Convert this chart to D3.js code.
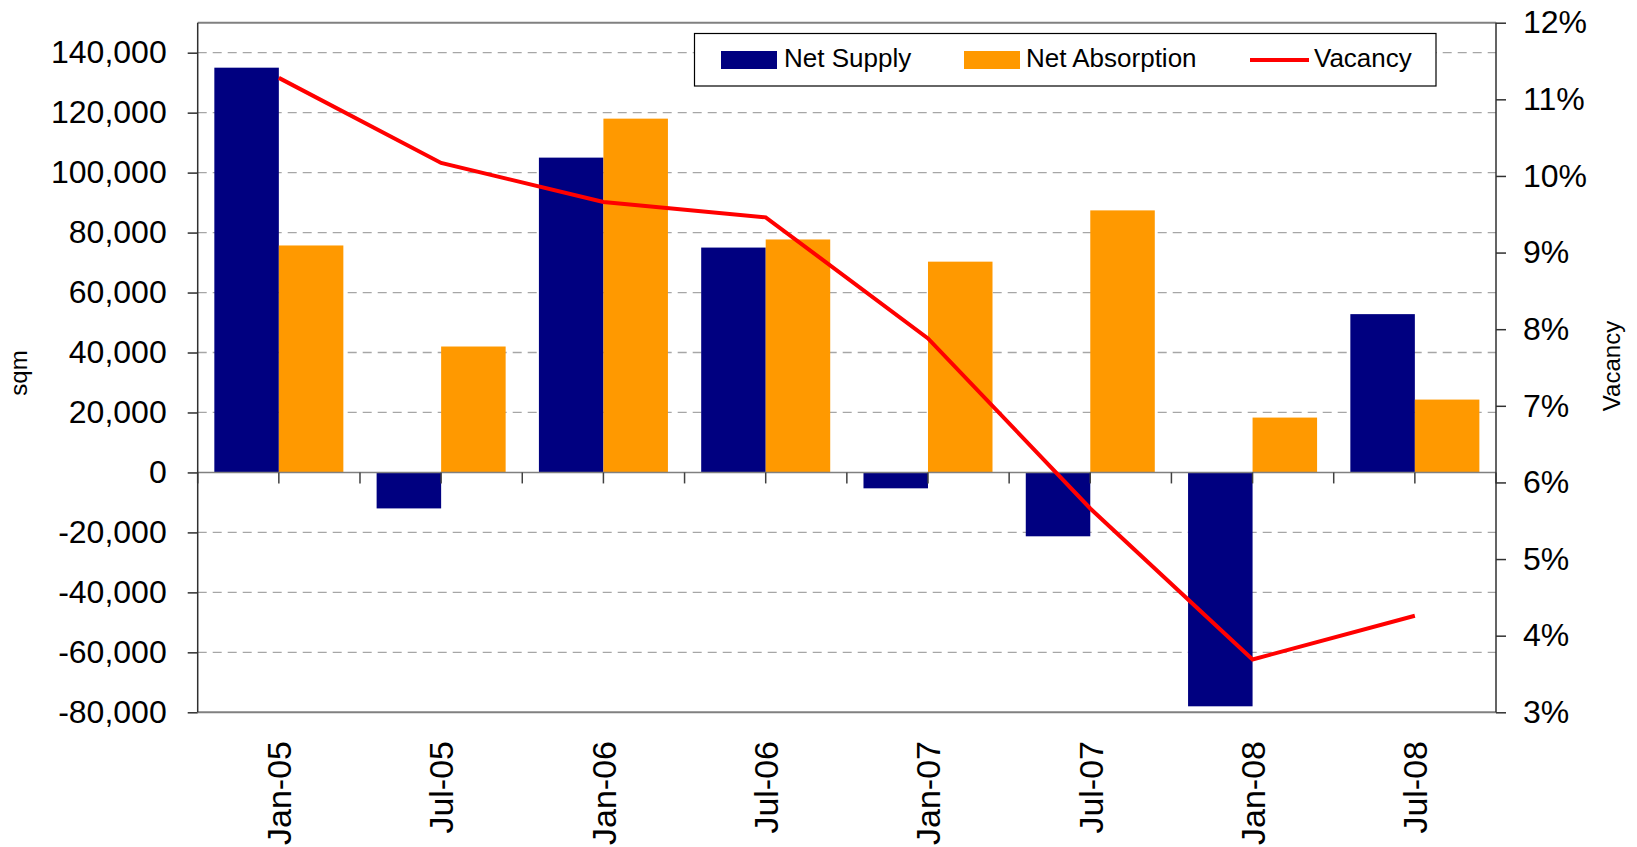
<!DOCTYPE html>
<html>
<head>
<meta charset="utf-8">
<script src="https://cdn.jsdelivr.net/npm/d3@7"></script>
<style>
  body { margin: 0; background: #fff; }
  svg { display: block; font-family: "Liberation Sans", Arial, sans-serif; }
</style>
</head>
<body>
<div id="grafico"></div>
<script>
// datos
const periodos = ["Jan-05", "Jul-05", "Jan-06", "Jul-06", "Jan-07", "Jul-07", "Jan-08", "Jul-08"];
const netSupply = [135000, -12000, 105000, 75000, -5300, -21300, -78000, 52800];
const netAbsorption = [75700, 42000, 118000, 77700, 70300, 87400, 18300, 24300];
const vacancy = [11.28, 10.17, 9.66, 9.46, 7.88, 5.66, 3.69, 4.26];
const ticksSqm = [-80000, -60000, -40000, -20000, 0, 20000, 40000, 60000, 80000, 100000, 120000, 140000];
const ticksVacancy = [3, 4, 5, 6, 7, 8, 9, 10, 11, 12];
const series = ["Net Supply", "Net Absorption"];
const colores = { "Net Supply": "#000080", "Net Absorption": "#FF9900" };

const datos = periodos.map((p, i) => ({
    periodo: p,
    valores: [
        { serie: "Net Supply", valor: netSupply[i] },
        { serie: "Net Absorption", valor: netAbsorption[i] }
    ],
    vacancy: vacancy[i]
}));

const W = 1637, H = 847;
const pLeft = 197.7, pRight = 1496, pTop = 22.7, pBottom = 712.3;

// formato con guion normal como en el original
const formato = d3.formatLocale({ decimal: ".", thousands: ",", grouping: [3], currency: ["", ""], minus: "-" }).format(",");

const svg = d3.select("#grafico").append("svg")
    .attr("width", W)
    .attr("height", H);

const x = d3.scaleBand()
    .domain(periodos)
    .range([pLeft, pRight])
    .paddingInner(0.205)
    .paddingOuter(0.1025);

const x1 = d3.scaleBand()
    .domain(series)
    .range([0, x.bandwidth()]);

const y = d3.scaleLinear()
    .domain([-80000, 150000])
    .range([pBottom, pTop]);

const y2 = d3.scaleLinear()
    .domain([3, 12])
    .range([pBottom, pTop]);

// Grilla punteada
svg.append("g")
    .selectAll("line")
    .data(ticksSqm.filter(d => d !== 0 && d !== -80000))
    .enter().append("line")
    .attr("x1", pLeft).attr("x2", pRight)
    .attr("y1", d => y(d)).attr("y2", d => y(d))
    .attr("stroke", "#a6a6a6")
    .attr("stroke-width", 1.3)
    .attr("stroke-dasharray", "9,6");

// Borde superior e inferior
svg.append("line")
    .attr("x1", pLeft).attr("x2", pRight)
    .attr("y1", pTop).attr("y2", pTop)
    .attr("stroke", "#808080").attr("stroke-width", 2);
svg.append("line")
    .attr("x1", pLeft).attr("x2", pRight)
    .attr("y1", pBottom).attr("y2", pBottom)
    .attr("stroke", "#808080").attr("stroke-width", 2);

// Barras
const grupos = svg.append("g")
    .selectAll("g")
    .data(datos)
    .enter().append("g")
    .attr("transform", d => `translate(${x(d.periodo)},0)`);

grupos.selectAll("rect")
    .data(d => d.valores)
    .enter().append("rect")
    .attr("x", d => x1(d.serie))
    .attr("y", d => y(Math.max(0, d.valor)))
    .attr("width", x1.bandwidth())
    .attr("height", d => Math.abs(y(d.valor) - y(0)))
    .attr("fill", d => colores[d.serie]);

// Linea del cero con ticks
svg.append("line")
    .attr("x1", pLeft).attr("x2", pRight)
    .attr("y1", y(0)).attr("y2", y(0))
    .attr("stroke", "#808080").attr("stroke-width", 1.5);

const posTicks = [];
periodos.forEach(p => {
    const c = x(p) + x.bandwidth() / 2;
    posTicks.push(c - x.step() / 2, c);
});
posTicks.push(pRight);
svg.append("g")
    .selectAll("line")
    .data(posTicks)
    .enter().append("line")
    .attr("x1", d => d).attr("x2", d => d)
    .attr("y1", y(0)).attr("y2", y(0) + 11)
    .attr("stroke", "#404040").attr("stroke-width", 1.5);

// Linea de vacancia
const linea = d3.line()
    .x(d => x(d.periodo) + x.bandwidth() / 2)
    .y(d => y2(d.vacancy));

svg.append("path")
    .datum(datos)
    .attr("d", linea)
    .attr("fill", "none")
    .attr("stroke", "#FF0000")
    .attr("stroke-width", 4);

// Eje Y izquierdo
const ejeY = svg.append("g")
    .attr("transform", `translate(${pLeft},0)`)
    .call(d3.axisLeft(y).tickValues(ticksSqm).tickSize(10).tickPadding(21).tickFormat(formato));
ejeY.select(".domain").attr("d", `M0,${pTop}V${pBottom}`).attr("stroke", "#303030").attr("stroke-width", 1.5);
ejeY.selectAll(".tick line").attr("stroke", "#303030").attr("stroke-width", 1.5);
ejeY.selectAll("text").attr("font-size", 32).attr("font-family", "Liberation Sans, Arial").attr("fill", "#000");

// Eje Y derecho
const ejeY2 = svg.append("g")
    .attr("transform", `translate(${pRight},0)`)
    .call(d3.axisRight(y2).tickValues(ticksVacancy).tickSize(10).tickPadding(17).tickFormat(d => d + "%"));
ejeY2.select(".domain").attr("d", `M0,${pTop}V${pBottom}`).attr("stroke", "#303030").attr("stroke-width", 1.5);
ejeY2.selectAll(".tick line").attr("stroke", "#303030").attr("stroke-width", 1.5);
ejeY2.selectAll("text").attr("font-size", 32).attr("font-family", "Liberation Sans, Arial").attr("fill", "#000");

// Etiquetas X rotadas
svg.append("g")
    .selectAll("text")
    .data(periodos)
    .enter().append("text")
    .attr("transform", d => `translate(${x(d) + x.bandwidth() / 2},741) rotate(-90)`)
    .attr("dy", "0.36em")
    .attr("text-anchor", "end")
    .attr("font-size", 34)
    .text(d => d);

// Titulos de ejes
svg.append("text")
    .attr("transform", "translate(27,373) rotate(-90)")
    .attr("text-anchor", "middle")
    .attr("font-size", 24)
    .text("sqm");

svg.append("text")
    .attr("transform", "translate(1620,366) rotate(-90)")
    .attr("text-anchor", "middle")
    .attr("font-size", 24)
    .text("Vacancy");

// Leyenda
const leyenda = svg.append("g");
leyenda.append("rect")
    .attr("x", 694.5).attr("y", 33.5)
    .attr("width", 741.5).attr("height", 52.5)
    .attr("fill", "#fff").attr("stroke", "#000").attr("stroke-width", 1.2);

const itemsLeyenda = [
    { nombre: "Net Supply", tipo: "rect", color: colores["Net Supply"], x: 721, tx: 784 },
    { nombre: "Net Absorption", tipo: "rect", color: colores["Net Absorption"], x: 964, tx: 1026 },
    { nombre: "Vacancy", tipo: "line", color: "#FF0000", x: 1250, tx: 1314 }
];

itemsLeyenda.forEach(it => {
    if (it.tipo === "rect") {
        leyenda.append("rect")
            .attr("x", it.x).attr("y", 51)
            .attr("width", 56).attr("height", 18)
            .attr("fill", it.color);
    } else {
        leyenda.append("line")
            .attr("x1", it.x).attr("x2", it.x + 59)
            .attr("y1", 60).attr("y2", 60)
            .attr("stroke", it.color).attr("stroke-width", 4);
    }
    leyenda.append("text")
        .attr("x", it.tx).attr("y", 67)
        .attr("font-size", 26)
        .text(it.nombre);
});
</script>
</body>
</html>
